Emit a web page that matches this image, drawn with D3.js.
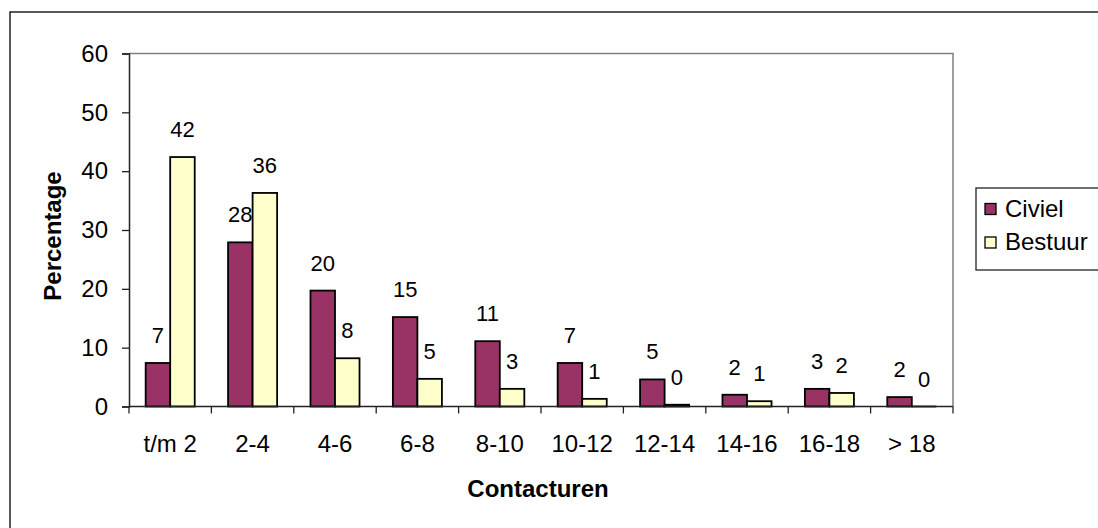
<!DOCTYPE html>
<html><head><meta charset="utf-8">
<script src="https://cdn.jsdelivr.net/npm/d3@7"></script>
<style>html,body{margin:0;padding:0;background:#fff;}svg{display:block;font-family:Arial,"Liberation Sans",sans-serif;}</style>
</head><body>
<svg id="c" width="1098" height="528"></svg>
<script>
const categories = ["t/m 2","2-4","4-6","6-8","8-10","10-12","12-14","14-16","16-18","> 18"];
const seriesNames = ["Civiel","Bestuur"];
const civiel = [7.4, 27.9, 19.7, 15.2, 11.1, 7.4, 4.6, 2.0, 3.0, 1.6];
const bestuur = [42.4, 36.3, 8.2, 4.7, 3.0, 1.3, 0.3, 0.9, 2.3, 0];
const yTicks = [0,10,20,30,40,50,60];
const colors = ["#993366","#FFFFCC"];

const svg = d3.select("#c");
const L = 129, R = 953, T = 53.5, B = 406.5;
const fsAxis = 24, fsLabel = 22, fsLegend = 24;
const ff = "Arial,'Liberation Sans',sans-serif";

// outer frame
svg.append("rect").attr("x",10).attr("y",12).attr("width",1120).attr("height",540)
  .attr("fill","#fff").attr("stroke","#222").attr("stroke-width",1.5);

const x = d3.scaleBand().domain(categories).range([L,R]).padding(0);
const xs = d3.scaleBand().domain(seriesNames).range([0,x.bandwidth()]).paddingInner(0).paddingOuter(0.68);
const y = d3.scaleLinear().domain([0,60]).range([B,T]);

// plot border top/right gray
svg.append("path").attr("d",`M${L},${T}H${R}V${B}`).attr("fill","none").attr("stroke","#808080").attr("stroke-width",1.5);

const data = categories.map((c,i)=>({cat:c, vals:[civiel[i], bestuur[i]]}));

const g = svg.append("g");
data.forEach(d=>{
  d.vals.forEach((v,j)=>{
    const bx = x(d.cat)+xs(seriesNames[j]);
    if (v > 0) {
      g.append("rect").attr("x",bx).attr("y",y(v)).attr("width",xs.bandwidth()).attr("height",y(0)-y(v))
        .attr("fill",colors[j]).attr("stroke","#000").attr("stroke-width",1.8);
    } else {
      g.append("line").attr("x1",bx).attr("x2",bx+xs.bandwidth()).attr("y1",y(0)).attr("y2",y(0)).attr("stroke","#000").attr("stroke-width",1.8);
    }
    g.append("text").attr("x",bx+xs.bandwidth()/2).attr("y",y(v)-20).attr("text-anchor","middle")
      .attr("font-size",fsLabel).attr("fill","#000").text(Math.round(v));
  });
});

// y axis
const ya = svg.append("g").attr("transform",`translate(${L},0)`)
  .call(d3.axisLeft(y).tickValues(yTicks).tickSize(7).tickPadding(14).tickFormat(d3.format("d")));
ya.select(".domain").attr("stroke","#222").attr("stroke-width",1.5);
ya.selectAll(".tick line").attr("stroke","#222").attr("stroke-width",1.3);
ya.selectAll("text").attr("font-size",fsAxis).attr("fill","#000").attr("font-family",ff);

// x axis
const xa = svg.append("g").attr("transform",`translate(0,${B})`)
  .call(d3.axisBottom(x).tickSize(0).tickPadding(28.5));
xa.select(".domain").remove();
xa.append("line").attr("x1",L).attr("x2",R).attr("stroke","#222").attr("stroke-width",1.5);
xa.selectAll("text").attr("font-size",fsAxis).attr("fill","#000").attr("font-family",ff);
const bounds = categories.map(c=>x(c)).concat([R]);
xa.selectAll(".btick").data(bounds).enter().append("line").attr("class","btick")
  .attr("x1",d=>d).attr("x2",d=>d).attr("y1",0).attr("y2",7).attr("stroke","#222").attr("stroke-width",1.3);

// axis titles
svg.append("text").attr("x",(L+R)/2 - 3).attr("y",497).attr("text-anchor","middle")
  .attr("font-size",fsAxis).attr("font-weight","bold").text("Contacturen");
svg.append("text").attr("transform",`translate(61,236) rotate(-90)`).attr("text-anchor","middle")
  .attr("font-size",fsAxis).attr("font-weight","bold").text("Percentage");

// legend
const lg = svg.append("g");
lg.append("rect").attr("x",976).attr("y",188).attr("width",160).attr("height",82)
  .attr("fill","#fff").attr("stroke","#222").attr("stroke-width",1.3);
seriesNames.forEach((s,i)=>{
  const yy = 216.5 + i*33.5;
  lg.append("rect").attr("x",985).attr("y",yy-13).attr("width",11).attr("height",11)
    .attr("fill",colors[i]).attr("stroke","#000").attr("stroke-width",1.3);
  lg.append("text").attr("x",1005).attr("y",yy).attr("font-size",fsLegend).text(s);
});
</script>
</body></html>
